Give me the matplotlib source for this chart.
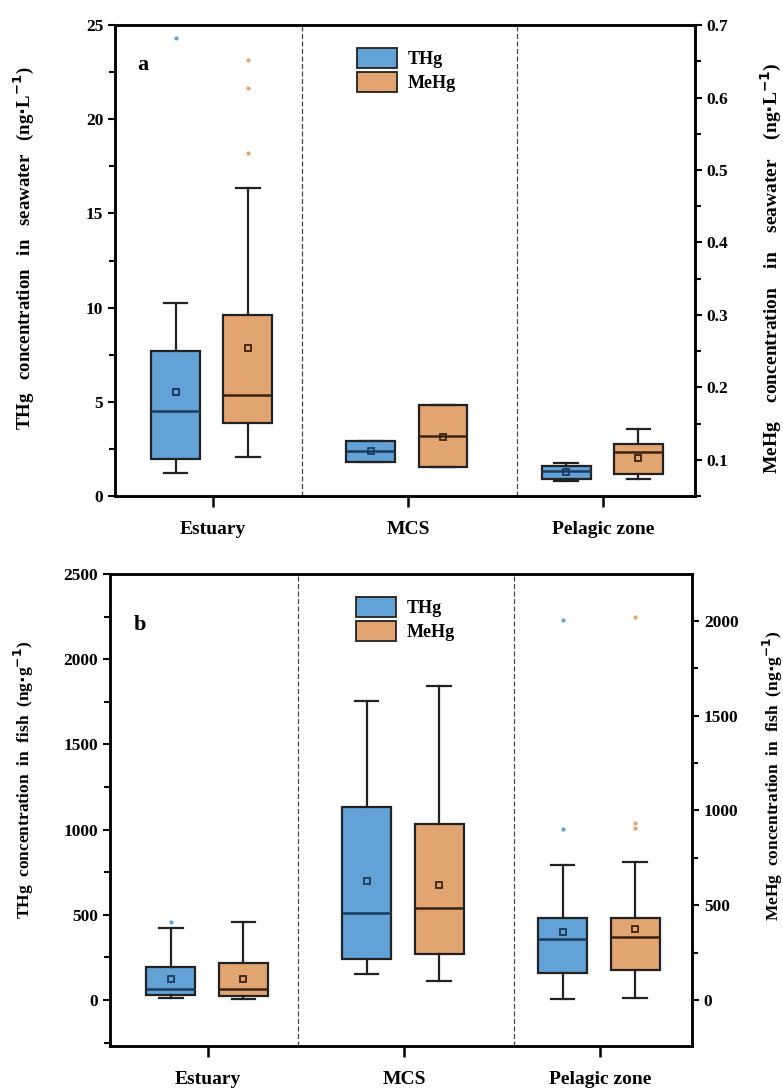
import matplotlib
matplotlib.use("Agg")
import matplotlib.pyplot as plt
from matplotlib.patches import Patch
from matplotlib.ticker import MultipleLocator

plt.rcParams['font.family'] = ['Liberation Serif', 'DejaVu Serif']
plt.rcParams['font.weight'] = 'bold'
plt.rcParams['axes.labelweight'] = 'bold'

categories = ['Estuary', 'MCS', 'Pelagic zone']

# panel a: seawater, THg (ng/L) on left axis, MeHg (ng/L) on right axis
# each entry: whislo, q1, med, q3, whishi, mean
sw_thg = [[1.24, 1.96, 4.5, 7.7, 10.26, 5.5],
          [1.8, 1.8, 2.4, 2.94, 2.94, 2.37],
          [0.78, 0.92, 1.33, 1.61, 1.74, 1.26]]
sw_thg_fliers = [[24.3], [], []]
sw_mehg = [[0.104, 0.151, 0.189, 0.300, 0.475, 0.254],
           [0.0904, 0.0904, 0.133, 0.175, 0.175, 0.132],
           [0.074, 0.0804, 0.111, 0.122, 0.143, 0.103]]
sw_mehg_fliers = [[0.652, 0.613, 0.524], [], []]

# panel b: fish, THg (ng/g) left, MeHg (ng/g) right
fish_thg = [[10, 27, 64, 195, 423, 121],
            [150, 240, 511, 1131, 1754, 698],
            [6, 160, 355, 484, 794, 400]]
fish_thg_fliers = [[458], [], [2228, 1004]]
fish_mehg = [[5, 21, 60, 193, 413, 111],
             [100, 243, 484, 927, 1658, 607],
             [12, 158, 334, 431, 729, 373]]
fish_mehg_fliers = [[], [], [2022, 932, 909]]

blue = '#62a2d6'
orange = '#e2a470'
edge = '#222222'

W, H = 783, 1089


def stats(rows, fliers):
    out = []
    for r, f in zip(rows, fliers):
        out.append(dict(whislo=r[0], q1=r[1], med=r[2], q3=r[3], whishi=r[4],
                        mean=r[5], fliers=f))
    return out


def draw(ax, st, pos, color, dark):
    ax.bxp(st, positions=pos, widths=0.25, patch_artist=True, showmeans=True,
           boxprops=dict(facecolor=color, edgecolor=edge, linewidth=1.6),
           medianprops=dict(color=dark, linewidth=1.8),
           whiskerprops=dict(color=edge, linewidth=1.6),
           capprops=dict(color=edge, linewidth=1.6),
           capwidths=0.12,
           meanprops=dict(marker='s', markersize=5, markerfacecolor='none',
                          markeredgecolor=dark, markeredgewidth=1.3),
           flierprops=dict(marker='o', markersize=3, markerfacecolor=color,
                           markeredgecolor='none'))


def panel(rect, thg, thgf, mehg, mehgf, ylim1, ylim2, maj1, maj2, letter, letter_xy, leg_x):
    ax = fig.add_axes(rect)
    ax2 = ax.twinx()
    xs = [1, 2, 3]
    draw(ax, stats(thg, thgf), [x - 0.19 for x in xs], blue, '#1d3a5c')
    draw(ax2, stats(mehg, mehgf), [x + 0.18 for x in xs], orange, '#3a2410')
    ax.set_xlim(0.5, 3.47)
    ax.set_ylim(*ylim1)
    ax2.set_ylim(*ylim2)
    ax.set_xticks(xs)
    ax.set_xticklabels(categories, fontsize=14)
    for d in [1.46, 2.56]:
        ax.axvline(d, color='#444444', linestyle=(0, (4, 2)), linewidth=0.9)
    ax.yaxis.set_major_locator(MultipleLocator(maj1))
    ax.yaxis.set_minor_locator(MultipleLocator(maj1 / 2))
    ax2.yaxis.set_major_locator(MultipleLocator(maj2))
    ax2.yaxis.set_minor_locator(MultipleLocator(maj2 / 2))
    ax.tick_params(axis='y', which='major', length=5, width=1.5, labelsize=12.5)
    ax.tick_params(axis='y', which='minor', length=4, width=1.5)
    ax2.tick_params(axis='y', which='major', length=5, width=1.5, labelsize=12.5)
    ax2.tick_params(axis='y', which='minor', length=4, width=1.5)
    ax.tick_params(axis='x', length=8, width=1.8, pad=10)
    for a in (ax, ax2):
        for s in a.spines.values():
            s.set_linewidth(1.8)
    ax.text(letter_xy[0], letter_xy[1], letter, transform=ax.transAxes, fontsize=16,
            fontweight='bold', va='center')
    handles = [Patch(facecolor=blue, edgecolor=edge, linewidth=1.3, label='THg'),
               Patch(facecolor=orange, edgecolor=edge, linewidth=1.3, label='MeHg')]
    ax2.legend(handles=handles, loc='upper left', bbox_to_anchor=(leg_x, 0.985),
               frameon=False, fontsize=13, handlelength=2.2, handleheight=1.3,
               labelspacing=0.2, handletextpad=0.6)
    return ax, ax2


def ylab(px, py, s, size):
    fig.text(px / W, 1 - py / H, s, rotation=90, ha='center', va='center',
             fontsize=size, fontweight='bold')


fig = plt.figure(figsize=(7.83, 10.89), dpi=100)

panel([0.1469, 0.5445, 0.7407, 0.4325], sw_thg, sw_thg_fliers, sw_mehg, sw_mehg_fliers,
      (0, 25), (0.05, 0.7), 5, 0.1, 'a', (0.038, 0.915), 0.39)

panel([0.1405, 0.0395, 0.7433, 0.4334], fish_thg, fish_thg_fliers, fish_mehg, fish_mehg_fliers,
      (-270, 2500), (-243, 2248), 500, 500, 'b', (0.04, 0.892), 0.395)

ylab(24, 248, r'THg   concentration   in   seawater   (ng$\cdot$L$^{\mathbf{-1}}$)', 13.5)
ylab(771, 268, r'MeHg    concentration    in    seawater    (ng$\cdot$L$^{\mathbf{-1}}$)', 14)
ylab(24, 780, r'THg  concentration  in  fish  (ng$\cdot$g$^{\mathbf{-1}}$)', 12.5)
ylab(773, 776, r'MeHg  concentration  in  fish  (ng$\cdot$g$^{\mathbf{-1}}$)', 12.5)

fig.savefig('out.png', dpi=100)
